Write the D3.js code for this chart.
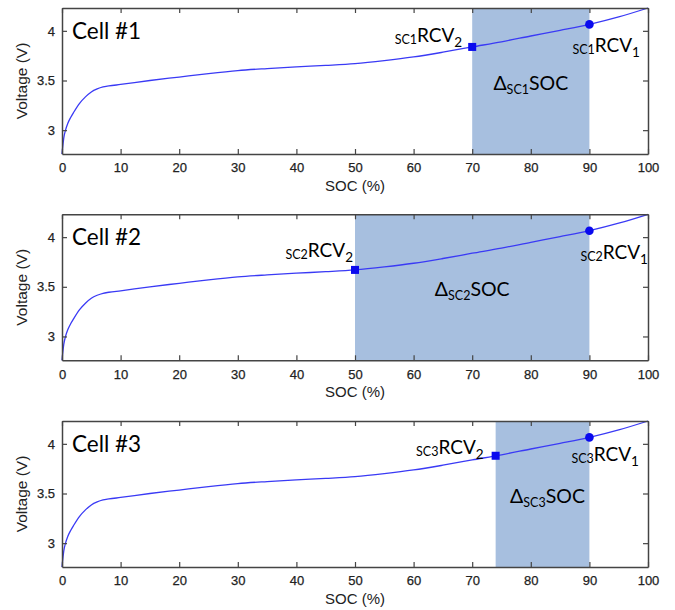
<!DOCTYPE html>
<html>
<head>
<meta charset="utf-8">
<script src="https://cdn.jsdelivr.net/npm/d3@7"></script>
<style>
  html, body { margin: 0; padding: 0; background: #fff; }
  svg { display: block; }
</style>
</head>
<body>
<div id="chart"></div>
<script>
// ---- data ----
const socGrid = [0, 0.3, 0.6, 1, 1.5, 2, 3, 4, 5, 6, 7, 8, 10, 15, 20, 25, 30, 35, 40, 45, 50, 55, 60, 65, 70, 75, 80, 85, 90, 95, 100];
const voltCurve = [2.76, 2.92, 3.0, 3.07, 3.13, 3.18, 3.27, 3.335, 3.385, 3.415, 3.435, 3.445, 3.46, 3.50, 3.535, 3.57, 3.60, 3.62, 3.637, 3.652, 3.67, 3.70, 3.737, 3.785, 3.838, 3.89, 3.948, 4.005, 4.065, 4.14, 4.23];
const cellNames = ["Cell #1", "Cell #2", "Cell #3"];
const scTags = ["SC1", "SC2", "SC3"];
const rcv1Soc = [90, 90, 90];
const rcv1Volt = [4.065, 4.065, 4.065];
const rcv2Soc = [70, 50, 74];
const rcv2Volt = [3.838, 3.67, 3.88];
const xTicks = [0, 10, 20, 30, 40, 50, 60, 70, 80, 90, 100];
const yTicks = [3, 3.5, 4];
const yDomain = [2.76, 4.23];

// ---- layout ----
const W = 675, H = 610;
const left = 62, right = 648, ph = 146;
const tops = [8, 214.3, 421];
// label offsets (relative to marker) per panel
const rcv2Label = [{dx: -10, dy: -5}, {dx: -2, dy: -13}, {dx: -12, dy: -2}];
const rcv1Label = [{dx: -17, dy: 28}, {dx: -9, dy: 28}, {dx: -18, dy: 24}];
const deltaDx = [0, 0, 5];

const annFont = "Lato, 'Open Sans', sans-serif";
const axFont = "'Liberation Sans', Arial, sans-serif";

const svg = d3.select("#chart").append("svg")
  .attr("width", W).attr("height", H)
  .style("background", "#fff");

const x = d3.scaleLinear().domain([0, 100]).range([left, right]);
const pts = socGrid.map((s, i) => [s, voltCurve[i]]);

cellNames.forEach((name, p) => {
  const top = tops[p];
  const y = d3.scaleLinear().domain(yDomain).range([top + ph, top]);
  const g = svg.append("g");

  // shaded region
  g.append("rect")
    .attr("x", x(rcv2Soc[p]))
    .attr("y", top)
    .attr("width", x(rcv1Soc[p]) - x(rcv2Soc[p]))
    .attr("height", ph)
    .attr("fill", "#a7bfdf");

  // curve
  const line = d3.line().x(d => x(d[0])).y(d => y(d[1])).curve(d3.curveMonotoneX);
  g.append("path").datum(pts)
    .attr("d", line)
    .attr("fill", "none")
    .attr("stroke", "#3a3af5")
    .attr("stroke-width", 1.3);

  // axes (inward ticks)
  const axStyle = sel => {
    sel.selectAll("path").attr("stroke", "#444").attr("stroke-width", 1.5);
    sel.selectAll("line").attr("stroke", "#444").attr("stroke-width", 1.2);
  };
  const xb = g.append("g").attr("transform", `translate(0,${top + ph})`)
    .call(d3.axisBottom(x).tickValues(xTicks).tickSizeInner(-5).tickSizeOuter(0).tickPadding(9).tickFormat(d3.format("d")));
  axStyle(xb);
  xb.selectAll("text").attr("font-family", axFont).attr("font-size", 13).attr("fill", "#222")
    .attr("stroke", "#222").attr("stroke-width", 0.25);

  const xt = g.append("g").attr("transform", `translate(0,${top})`)
    .call(d3.axisTop(x).tickValues(xTicks).tickSizeInner(-5).tickSizeOuter(0).tickFormat(""));
  axStyle(xt);

  const yl = g.append("g").attr("transform", `translate(${left},0)`)
    .call(d3.axisLeft(y).tickValues(yTicks).tickSizeInner(-5).tickSizeOuter(0).tickPadding(7).tickFormat(d3.format("")));
  axStyle(yl);
  yl.selectAll("text").attr("font-family", axFont).attr("font-size", 13).attr("fill", "#222")
    .attr("stroke", "#222").attr("stroke-width", 0.25);

  const yr = g.append("g").attr("transform", `translate(${right},0)`)
    .call(d3.axisRight(y).tickValues(yTicks).tickSizeInner(-5).tickSizeOuter(0).tickFormat(""));
  axStyle(yr);

  // axis titles
  g.append("text")
    .attr("x", (left + right) / 2).attr("y", top + ph + 37)
    .attr("text-anchor", "middle")
    .attr("font-family", axFont).attr("font-size", 15).attr("fill", "#222")
    .text("SOC (%)");
  g.append("text")
    .attr("transform", `translate(27,${top + ph / 2}) rotate(-90)`)
    .attr("text-anchor", "middle")
    .attr("font-family", axFont).attr("font-size", 15.5).attr("fill", "#222")
    .text("Voltage (V)");

  // markers
  g.append("rect")
    .attr("x", x(rcv2Soc[p]) - 4).attr("y", y(rcv2Volt[p]) - 4)
    .attr("width", 8).attr("height", 8)
    .attr("fill", "#0a0aee");
  g.append("circle")
    .attr("cx", x(rcv1Soc[p])).attr("cy", y(rcv1Volt[p]))
    .attr("r", 4.3)
    .attr("fill", "#0a0aee");

  // cell label
  g.append("text")
    .attr("x", 72).attr("y", top + 31)
    .attr("font-family", annFont).attr("font-size", 22.5).attr("fill", "#000")
    .text(name);

  // RCV2 label (right aligned)
  const t2 = g.append("text")
    .attr("x", x(rcv2Soc[p]) + rcv2Label[p].dx)
    .attr("y", y(rcv2Volt[p]) + rcv2Label[p].dy)
    .attr("text-anchor", "end")
    .attr("font-family", annFont).attr("fill", "#000");
  t2.append("tspan").attr("font-size", 12.5).attr("dy", 2).text(scTags[p]);
  t2.append("tspan").attr("font-size", 19).attr("dy", -2).text("RCV");
  t2.append("tspan").attr("font-size", 13.5).attr("dy", 5).text("2");

  // RCV1 label (left aligned)
  const t1 = g.append("text")
    .attr("x", x(rcv1Soc[p]) + rcv1Label[p].dx)
    .attr("y", y(rcv1Volt[p]) + rcv1Label[p].dy)
    .attr("font-family", annFont).attr("fill", "#000");
  t1.append("tspan").attr("font-size", 12.5).attr("dy", 2).text(scTags[p]);
  t1.append("tspan").attr("font-size", 19).attr("dy", -2).text("RCV");
  t1.append("tspan").attr("font-size", 13.5).attr("dy", 5).text("1");

  // delta SOC label
  const td = g.append("text")
    .attr("x", (x(rcv1Soc[p]) + x(rcv2Soc[p])) / 2 + deltaDx[p])
    .attr("y", top + 82)
    .attr("text-anchor", "middle")
    .attr("font-family", annFont).attr("fill", "#000");
  td.append("tspan").attr("font-size", 19.5).text("Δ");
  td.append("tspan").attr("font-size", 12.5).attr("dy", 4).text(scTags[p]);
  td.append("tspan").attr("font-size", 19.5).attr("dy", -4).text("SOC");
});
</script>
</body>
</html>
